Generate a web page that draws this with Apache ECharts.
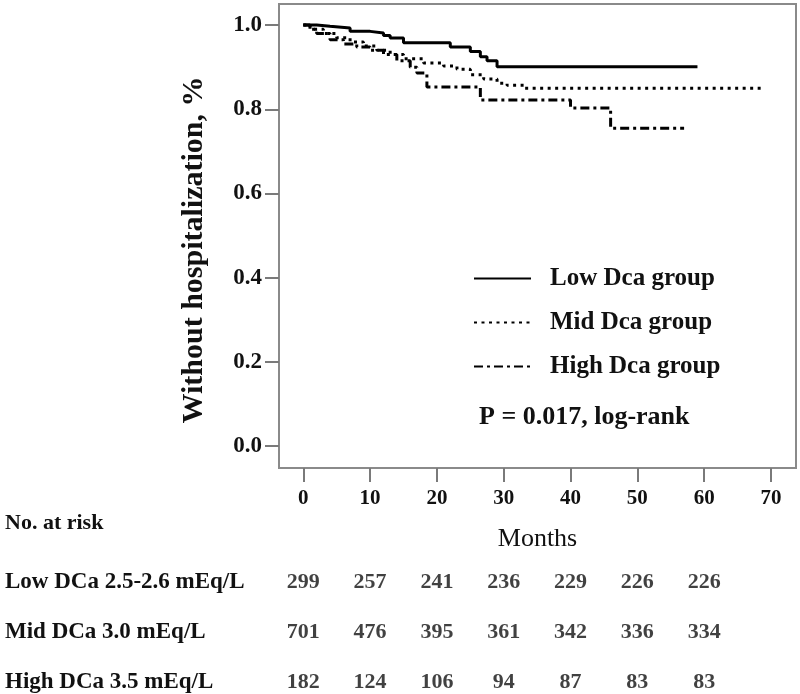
<!DOCTYPE html>
<html>
<head>
<meta charset="utf-8">
<script src="https://cdn.jsdelivr.net/npm/echarts@6/dist/echarts.min.js"></script>
<style>html,body{margin:0;padding:0;background:#fff}#c{width:800px;height:694px}</style>
</head>
<body>
<div id="c"></div>
<script>
// Kaplan-Meier step points [months, survival]
const lowGroup = [[0,1.0],[2,0.997],[4,0.993],[7,0.985],[10,0.981],[12,0.975],[13,0.969],[15,0.958],[22,0.948],[25,0.937],[26.5,0.925],[27.5,0.915],[29,0.901],[59,0.901]];
const midGroup = [[0,1.0],[1,0.99],[3,0.98],[5,0.97],[7,0.96],[9,0.95],[11,0.94],[13,0.93],[15,0.92],[18,0.91],[21,0.903],[23,0.895],[25,0.882],[27,0.872],[29,0.862],[30.5,0.857],[33,0.85],[69,0.85]];
const highGroup = [[0,1.0],[1,0.99],[2,0.98],[4,0.965],[6,0.955],[8,0.948],[10,0.94],[12,0.93],[14,0.915],[16,0.9],[17,0.886],[18.5,0.853],[26.5,0.822],[40,0.803],[46,0.755],[57,0.755]];
const seriesNames = ['Low Dca group','Mid Dca group','High Dca group'];
const xTicks = [0,10,20,30,40,50,60,70];
const yTicks = [0,0.2,0.4,0.6,0.8,1.0];
const riskTimes = [0,10,20,30,40,50,60];
const riskRows = ['Low DCa 2.5-2.6 mEq/L','Mid DCa 3.0 mEq/L','High DCa 3.5 mEq/L'];
const riskLow = [299,257,241,236,229,226,226];
const riskMid = [701,476,395,361,342,336,334];
const riskHigh = [182,124,106,94,87,83,83];

const FONT = '"Liberation Serif", "DejaVu Serif", serif';
const riskData = [];
[riskLow, riskMid, riskHigh].forEach((arr, r) => arr.forEach((v, i) => riskData.push([riskTimes[i], r, v])));

const chart = echarts.init(document.getElementById('c'), null, {renderer: 'canvas'});
chart.setOption({
  animation: false,
  backgroundColor: '#fff',
  grid: [
    {left: 279, right: 4, top: 4, bottom: 226, show: true, borderColor: '#8a8a8a', borderWidth: 2, backgroundColor: 'transparent'},
    {left: 279, right: 4, top: 557, bottom: 0}
  ],
  xAxis: [
    {type: 'value', gridIndex: 0, min: -3.64, max: 73.75,
     axisLine: {show: false, onZero: false}, splitLine: {show: false},
     axisTick: {show: true, length: 14, customValues: xTicks, lineStyle: {color: '#7a7a7a', width: 2}},
     axisLabel: {customValues: xTicks, margin: 20, fontFamily: FONT, fontWeight: 'bold', fontSize: 21, color: '#111'},
     name: 'Months', nameLocation: 'middle', nameGap: 58,
     nameTextStyle: {fontFamily: FONT, fontSize: 26, color: '#111'}},
    {type: 'value', gridIndex: 1, min: -3.64, max: 73.75, show: false}
  ],
  yAxis: [
    {type: 'value', gridIndex: 0, min: -0.052, max: 1.05,
     axisLine: {show: false, onZero: false}, splitLine: {show: false},
     axisTick: {show: true, length: 14, customValues: yTicks, lineStyle: {color: '#7a7a7a', width: 2}},
     axisLabel: {customValues: yTicks, margin: 17, fontFamily: FONT, fontWeight: 'bold', fontSize: 23, color: '#111',
       formatter: v => v.toFixed(1)},
     name: 'Without hospitalization, %', nameLocation: 'middle', nameGap: 70, nameRotate: 90,
     nameTextStyle: {fontFamily: FONT, fontWeight: 'bold', fontSize: 30, color: '#111', padding: [0, 28, 0, 0]}},
    {type: 'value', gridIndex: 1, min: -0.5, max: 2.24, inverse: true,
     axisLine: {show: false, onZero: false}, splitLine: {show: false},
     axisTick: {show: false, customValues: [0, 1, 2]},
     axisLabel: {customValues: [0, 1, 2], formatter: v => riskRows[Math.round(v)] || '',
       align: 'left', margin: 274, fontFamily: FONT, fontWeight: 'bold', fontSize: 23, color: '#111'}}
  ],
  legend: {
    orient: 'vertical', left: 468, top: 261, itemWidth: 57, itemHeight: 14, itemGap: 19,
    data: seriesNames,
    itemStyle: {opacity: 0},
    textStyle: {fontFamily: FONT, fontWeight: 'bold', fontSize: 25, color: '#111', padding: [0, 0, 0, 14]}
  },
  graphic: [
    {type: 'text', left: 479, top: 404, style: {text: 'P = 0.017, log-rank', font: 'bold 26px ' + FONT, fill: '#111'}},
    {type: 'text', left: 5, top: 512, style: {text: 'No. at risk', font: 'bold 22px ' + FONT, fill: '#111'}}
  ],
  series: [
    {name: seriesNames[0], type: 'line', step: 'end', data: lowGroup, symbol: 'none', xAxisIndex: 0, yAxisIndex: 0,
     lineStyle: {color: '#000', width: 3, type: 'solid'}, itemStyle: {color: '#000'}},
    {name: seriesNames[1], type: 'line', step: 'end', data: midGroup, symbol: 'none', xAxisIndex: 0, yAxisIndex: 0,
     lineStyle: {color: '#000', width: 3, type: [3, 4.5], cap: 'butt'}, itemStyle: {color: '#000'}},
    {name: seriesNames[2], type: 'line', step: 'end', data: highGroup, symbol: 'none', xAxisIndex: 0, yAxisIndex: 0,
     lineStyle: {color: '#000', width: 3, type: [9, 4, 3, 4]}, itemStyle: {color: '#000'}},
    {type: 'scatter', xAxisIndex: 1, yAxisIndex: 1, data: riskData, symbolSize: 0, silent: true,
     label: {show: true, position: 'inside', formatter: p => String(p.value[2]),
       fontFamily: FONT, fontWeight: 'bold', fontSize: 22, color: '#111'}}
  ]
});
</script>
</body>
</html>
